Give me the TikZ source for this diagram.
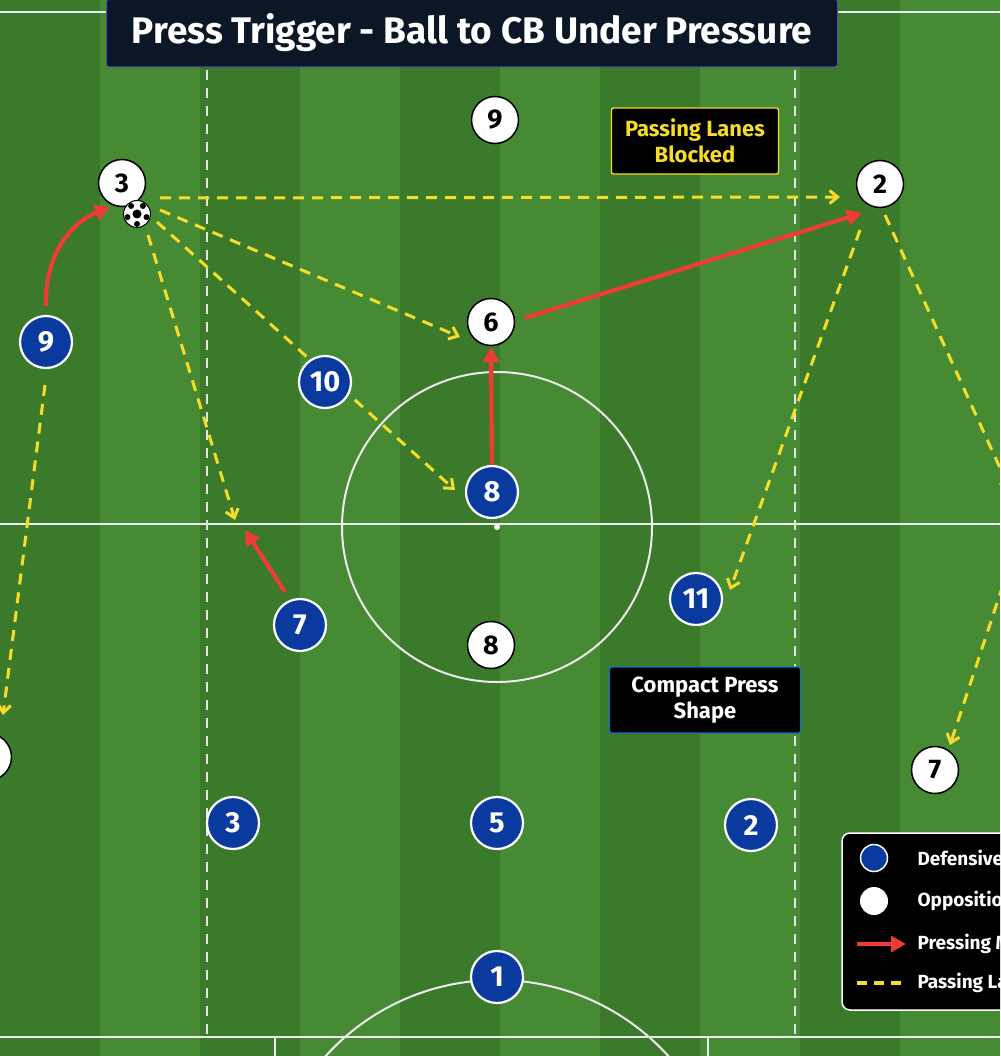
\documentclass[tikz,border=0pt]{standalone}
\usepackage{fontspec}
\setmainfont{Fira Sans}
\usetikzlibrary{arrows.meta,calc}
\definecolor{gA}{HTML}{3B7A2A}
\definecolor{gB}{HTML}{468B33}
\definecolor{defblue}{HTML}{0A3A9E}
\definecolor{navy}{HTML}{0B1626}
\definecolor{ylw}{HTML}{F5DC2A}
\definecolor{redar}{HTML}{EE3B33}
\tikzset{
 def/.style={circle,draw=white,line width=2.2pt,fill=defblue,text=white,minimum size=52pt,inner sep=0pt,font=\fontsize{29}{29}\selectfont\bfseries},
 opp/.style={circle,draw=black,line width=1.5pt,fill=white,text=black,minimum size=47pt,inner sep=0pt,font=\fontsize{27}{27}\selectfont\bfseries},
 press/.style={draw=redar,line width=4.2pt,-{Triangle[length=15pt,width=16pt]}},
 lane/.style={draw=ylw,line width=3pt,dash pattern=on 11pt off 8pt,-{Straight Barb[length=8pt,width=13pt]}},
 pline/.style={draw=white!85!gray,line width=2pt},
 lbl/.style={fill=black,rounded corners=2pt,line width=1.4pt,align=center,inner sep=0pt,font=\fontsize{22}{26}\selectfont\bfseries},
 leg/.style={anchor=west,text=white,font=\fontsize{19}{19}\selectfont\bfseries}
}
\begin{document}
\begin{tikzpicture}[x=1pt,y=-1pt]
\useasboundingbox (0,0) rectangle (1000,1056);
\clip (0,0) rectangle (1000,1056);
\foreach \i in {0,...,9}{
  \pgfmathsetmacro\xx{\i*100}
  \ifodd\i \fill[gB] (\xx,0) rectangle ++(100,1056); \else \fill[gA] (\xx,0) rectangle ++(100,1056); \fi
}
% pitch lines
\draw[pline] (0,524) -- (1000,524);
\draw[pline] (0,12) -- (1000,12);
\draw[pline] (0,1037) -- (1000,1037);
\draw[pline] (275,1037) -- (275,1056);
\draw[pline] (708,1037) -- (708,1056);
\draw[pline] (497,527) circle (155);
\fill[white] (497,527) circle (3);
\draw[pline] (497,1211) circle (231);
\draw[white!80!gray,line width=1.5pt,dash pattern=on 10pt off 8pt] (207,70) -- (207,1037);
\draw[white!80!gray,line width=1.5pt,dash pattern=on 10pt off 8pt] (795,70) -- (795,1037);
% opposition
\node[opp] (o9) at (495,120) {9};
\node[opp] (o3) at (122,183) {3};
\node[opp] (o2) at (880,184) {2};
\node[opp] (o6) at (491,322) {6};
\node[opp] (o8) at (491,645) {8};
\node[opp] (o7) at (935,770) {7};
\node[opp] (o11) at (-12,757) {11};
% ball
\node[circle,draw=black,line width=1pt,fill=white,minimum size=27pt,inner sep=0pt] (ball) at (137,214) {};
\fill[black] (137,214) circle (4.5);
\foreach \a in {90,162,234,306,18}{\fill[black] ($(137,214)+(\a:10)$) circle (3);}
% lanes
\coordinate (l1) at (840,197);
\draw[lane] (160,198) -- (l1);
\draw[lane] (160,210) -- (460,337);
\draw[lane] (157,222) -- (455,490);
\draw[lane] (148,235) -- (235,520);
\draw[lane] (860,230) -- (730,590);
\draw[lane] (885,215) -- (1010,490);
\draw[lane] (1003,585) -- (950,745);
\draw[lane] (45,385) -- (3,715);
% defenders
\node[def] (d9) at (46,342) {9};
\node[def] (d10) at (325,382) {10};
\node[def] (d8) at (492,492) {8};
\node[def] (d7) at (300,625) {7};
\node[def] (d11) at (696,599) {11};
\node[def] (d3) at (233,823) {3};
\node[def] (d5) at (497,823) {5};
\node[def] (d2) at (751,825) {2};
\node[def] (d1) at (497,977) {1};
% pressing
\draw[press] (46,306) to[bend left=35] (110,207);
\draw[press] (525,318) -- (862,213);
\draw[press] (d8.north) -- (491,347);
\draw[press] (285,592) -- (245,530);
% boxes
\node[fill=navy,draw=gray!60!blue,line width=1pt,rounded corners=3pt,minimum width=731pt,minimum height=68pt,text=white,font=\fontsize{37}{37}\selectfont\bfseries] (title) at (472,33) {Press Trigger - Ball to CB Under Pressure};
\node[lbl,draw=ylw,text=ylw,minimum width=167pt,minimum height=66pt] (pl) at (695,141) {Passing Lanes\\Blocked};
\node[lbl,draw=cyan!50!blue,text=white,minimum width=191pt,minimum height=66pt] (cp) at (705,700) {Compact Press\\Shape};
% legend
\draw[white,line width=1.5pt,fill=black,rounded corners=8pt] (842,833) rectangle (1060,1010);
\node[circle,draw=white,line width=1.5pt,fill=defblue,minimum size=27pt] (lg1) at (874,858) {};
\node[circle,fill=white,minimum size=28pt] (lg2) at (874,901) {};
\coordinate (la) at (857,944); \coordinate (lb) at (906,944);
\draw[press,line width=3.5pt] (la) -- (lb);
\coordinate (lc) at (857,983); \coordinate (ld) at (904,983);
\draw[ylw,line width=3.5pt,dash pattern=on 10pt off 7pt] (lc) -- (ld);
\node[leg] at (914,858) {Defensive Team};
\node[leg] at (914,901) {Opposition};
\node[leg] at (914,944) {Pressing Movement};
\node[leg] at (914,983) {Passing Lanes};
\end{tikzpicture}
\end{document}
